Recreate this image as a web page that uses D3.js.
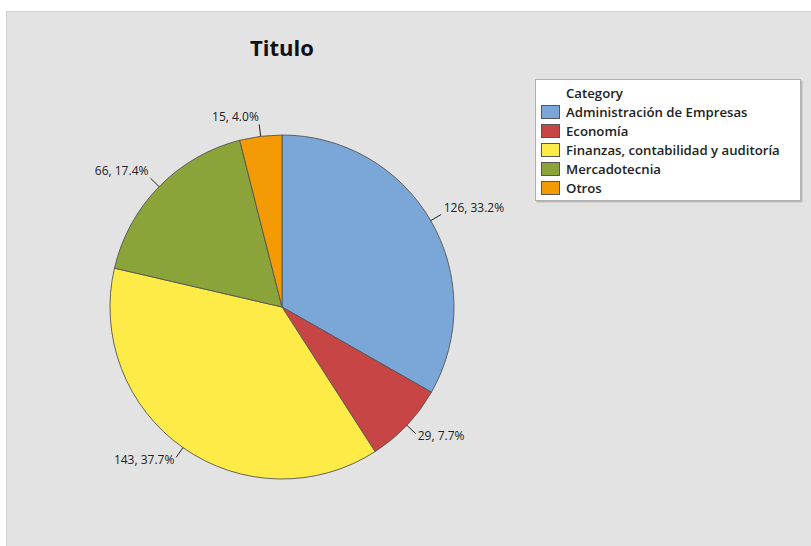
<!DOCTYPE html>
<html>
<head>
<meta charset="utf-8">
<script src="https://cdn.jsdelivr.net/npm/d3@7"></script>
<style>
  body { margin: 0; background: #fff; }
</style>
</head>
<body>
<script>
const categories = ["Administración de Empresas", "Economía", "Finanzas, contabilidad y auditoría", "Mercadotecnia", "Otros"];
const counts = [126, 29, 143, 66, 15];
const colors = ["#7ba6d8", "#c74645", "#ffeb47", "#8aa43a", "#f49a05"];
const chartTitle = "Titulo";
const legendTitle = "Category";

const width = 811, height = 546;
const cx = 282, cy = 307, r = 172;

const svg = d3.select("body").append("svg")
  .attr("width", width)
  .attr("height", height)
  .style("font-family", "'Open Sans', 'Noto Sans', sans-serif");

// panel background
svg.append("rect")
  .attr("x", 6.5).attr("y", 11.5)
  .attr("width", width).attr("height", height)
  .attr("fill", "#e3e3e3")
  .attr("stroke", "#d0d0d0");

svg.append("text")
  .attr("x", cx).attr("y", 56)
  .attr("text-anchor", "middle")
  .attr("font-size", 22)
  .attr("font-weight", "bold")
  .attr("fill", "#111")
  .text(chartTitle);

const data = categories.map((c, i) => ({ name: c, value: counts[i], color: colors[i] }));
const total = d3.sum(counts);

const pie = d3.pie().value(d => d.value).sort(null);
const arcs = pie(data);
const arc = d3.arc().innerRadius(0).outerRadius(r);

const g = svg.append("g").attr("transform", `translate(${cx},${cy})`);

g.selectAll("path.slice")
  .data(arcs)
  .enter()
  .append("path")
  .attr("class", "slice")
  .attr("d", arc)
  .attr("fill", d => d.data.color)
  .attr("stroke", "#555")
  .attr("stroke-width", 0.9)
  .attr("stroke-linejoin", "round");

// leader lines and labels
const mid = d => (d.startAngle + d.endAngle) / 2;
const pt = (a, rad) => [rad * Math.sin(a), -rad * Math.cos(a)];

g.selectAll("line.leader")
  .data(arcs)
  .enter()
  .append("line")
  .attr("class", "leader")
  .attr("x1", d => pt(mid(d), r)[0])
  .attr("y1", d => pt(mid(d), r)[1])
  .attr("x2", d => pt(mid(d), r + 12)[0])
  .attr("y2", d => pt(mid(d), r + 12)[1])
  .attr("stroke", "#222")
  .attr("stroke-width", 1);

g.selectAll("text.lbl")
  .data(arcs)
  .enter()
  .append("text")
  .attr("class", "lbl")
  .attr("x", d => pt(mid(d), r + 15)[0])
  .attr("y", d => pt(mid(d), r + 15)[1] - (Math.cos(mid(d)) > 0 ? 5 : 0))
  .attr("dy", "0.35em")
  .attr("text-anchor", d => Math.sin(mid(d)) >= 0 ? "start" : "end")
  .attr("font-size", 12)
  .attr("fill", "#222")
  .text(d => `${d.data.value}, ${(d.data.value / total * 100).toFixed(1)}%`);

// legend
const lg = svg.append("g").attr("transform", "translate(535,79)");
lg.append("rect")
  .attr("x", 1.5).attr("y", 1.5)
  .attr("width", 266).attr("height", 122)
  .attr("fill", "#bcbcbc");
lg.append("rect")
  .attr("x", 0.5).attr("y", 0.5)
  .attr("width", 265).attr("height", 121)
  .attr("fill", "#fff")
  .attr("stroke", "#b0b0b0");

lg.append("text")
  .attr("x", 31).attr("y", 14)
  .attr("dy", "0.35em")
  .attr("font-size", 13.2)
  .attr("font-weight", 600)
  .attr("fill", "#222")
  .text(legendTitle);

const rows = lg.selectAll("g.row")
  .data(data)
  .enter()
  .append("g")
  .attr("class", "row")
  .attr("transform", (d, i) => `translate(0,${33 + i * 19})`);

rows.append("rect")
  .attr("x", 6.5).attr("y", -6.5)
  .attr("width", 18).attr("height", 13)
  .attr("fill", d => d.color)
  .attr("stroke", "#555");

rows.append("text")
  .attr("x", 31).attr("y", 0)
  .attr("dy", "0.35em")
  .attr("font-size", 13.2)
  .attr("font-weight", 600)
  .attr("fill", "#222")
  .text(d => d.name);
</script>
</body>
</html>
